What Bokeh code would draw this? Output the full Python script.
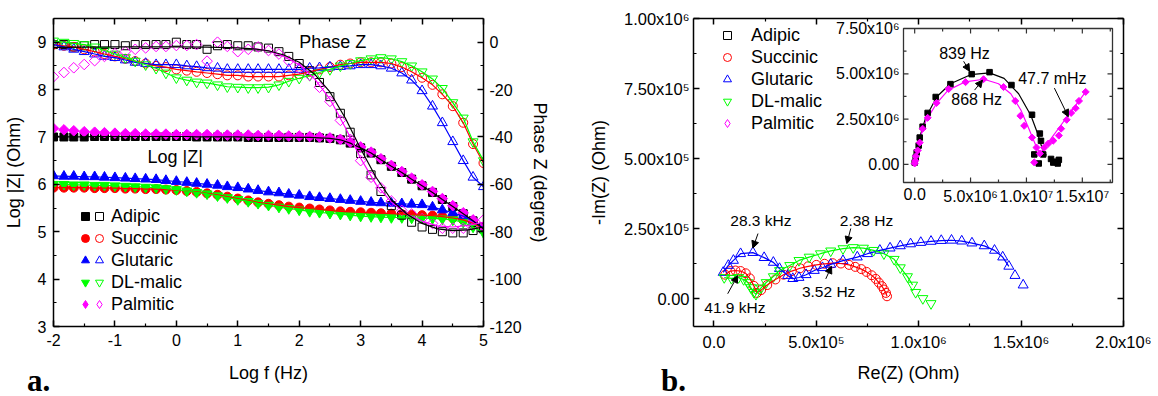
import math
import numpy as np
from bokeh.plotting import figure
from bokeh.models import (Range1d, LinearAxis, FixedTicker, Legend, LegendItem,
                          Label, Arrow, NormalHead, Div)
from bokeh.layouts import row, column
from bokeh.embed import file_html
from bokeh.resources import INLINE
from bokeh.core.properties import value

NAN = float("nan")
FONT = "Liberation Sans"

# ---------------- panel a : Bode data ----------------
LOG_F = [-2.0, -1.83, -1.67, -1.5, -1.33, -1.17, -1.0, -0.83, -0.67, -0.5, -0.33, -0.17,
         0.0, 0.17, 0.33, 0.5, 0.67, 0.83, 1.0, 1.17, 1.33, 1.5, 1.67, 1.83, 2.0, 2.17,
         2.33, 2.5, 2.67, 2.83, 3.0, 3.17, 3.33, 3.5, 3.67, 3.83, 4.0, 4.17, 4.33, 4.5,
         4.67, 4.83, 5.0]

ADIPIC_LOGZ = [7.0, 7.0, 7.0, 7.0, 7.01, 7.01, 7.01, 7.01, 7.01, 7.01, 7.01, 7.01, 7.01,
               7.01, 7.0, 7.0, 7.0, 7.0, 7.0, 6.99, 6.99, 6.99, 6.99, 6.99, 6.99, 6.99,
               6.98, 6.97, 6.94, 6.87, 6.77, 6.66, 6.52, 6.38, 6.25, 6.11, 5.97, 5.83,
               5.68, 5.53, 5.38, 5.23, 5.06]
SUCCINIC_LOGZ = [5.93, 5.93, 5.93, 5.93, 5.92, 5.92, 5.92, 5.91, 5.91, 5.9, 5.9, 5.89,
                 5.88, 5.86, 5.84, 5.81, 5.78, 5.74, 5.7, 5.66, 5.62, 5.59, 5.56, 5.53,
                 5.51, 5.49, 5.47, 5.45, 5.43, 5.42, 5.41, 5.4, 5.39, 5.38, 5.37, 5.36,
                 5.35, 5.34, 5.32, 5.29, 5.25, 5.18, 5.07]
GLUTARIC_LOGZ = [6.18, 6.17, 6.17, 6.16, 6.16, 6.15, 6.14, 6.13, 6.12, 6.11, 6.1, 6.08,
                 6.06, 6.04, 6.02, 6.0, 5.98, 5.95, 5.93, 5.9, 5.87, 5.84, 5.82, 5.79,
                 5.77, 5.74, 5.72, 5.7, 5.68, 5.66, 5.64, 5.62, 5.61, 5.6, 5.59, 5.58,
                 5.57, 5.52, 5.46, 5.4, 5.33, 5.22, 5.08]
MALIC_LOGZ = [6.0, 6.0, 5.99, 5.99, 5.98, 5.98, 5.97, 5.96, 5.95, 5.94, 5.93, 5.91, 5.89,
              5.86, 5.83, 5.8, 5.76, 5.72, 5.68, 5.64, 5.6, 5.56, 5.52, 5.49, 5.46, 5.43,
              5.41, 5.39, 5.37, 5.35, 5.33, 5.32, 5.31, 5.3, 5.3, 5.29, 5.29, 5.28, 5.27,
              5.25, 5.2, 5.1, 4.98]
PALMITIC_LOGZ = [7.18, 7.15, 7.13, 7.11, 7.1, 7.09, 7.08, 7.07, 7.07, 7.06, 7.06, 7.06,
                 7.05, 7.05, 7.05, 7.05, 7.04, 7.04, 7.04, 7.04, 7.03, 7.03, 7.03, 7.02,
                 7.02, 7.01, 7.0, 6.98, 6.95, 6.89, 6.79, 6.68, 6.54, 6.4, 6.27, 6.13,
                 5.99, 5.85, 5.7, 5.55, 5.4, 5.25, 5.1]

ADIPIC_PHASE = [-1, -1, -2, -1.5, -1, -1, -1, -1.5, -1, -1, -1, -1, 0, -1, -1, -3, -1.5,
                -1, -1.5, -1.5, -2, -2.5, -4, -6, -9, -12, -17, -23, -30, -38, -47, -56,
                -63, -69, -73, -76, -78, -79, -80, -80.5, -80.5, -79.5, -78]
SUCCINIC_PHASE = [-1, -1.5, -2, -3, -4, -5, -6, -7, -8, -9, -10, -10.5, -11.5, -12, -12.5,
                  -13, -13.5, -14, -14, -14.5, -14.5, -14.5, -14.5, -14, -13.5, -12.5,
                  -11.5, -10.5, -9.5, -9, -8.5, -8.5, -8.5, -9, -10.5, -12.5, -15, -18,
                  -22, -27, -34, -43, -51]
GLUTARIC_PHASE = [-1, -2, -3, -4, -5, -6, -6.5, -7.5, -8.5, -9, -9.5, -9.5, -9.5, -10,
                  -10.3, -10.8, -11, -11.5, -11.5, -11.5, -11.5, -11.5, -11.5, -11.5,
                  -11.5, -11, -10.8, -10.5, -10.3, -10, -9.5, -9.5, -10, -11, -13, -16,
                  -20.5, -27, -34, -42, -50, -57, -61]
MALIC_PHASE = [0.5, 0, -0.5, -1, -2, -3.5, -5, -6.5, -8, -9.5, -11, -13, -15, -16, -16.8,
               -17.2, -18, -18.8, -19, -19.2, -19.2, -19, -18, -16.5, -15.2, -14, -12.8,
               -11.5, -10, -9, -7.8, -7, -6.5, -7, -8.2, -10, -12.5, -15.5, -19.5, -25.5,
               -32, -42, -50]
PALMITIC_PHASE = [-14.6, -12.8, -10.8, -9.4, -7.8, -6, -4.8, -4, -3, -2.4, -1.8, -1.8,
                  -1.4, -1.4, -1, -8, 0, -1.8, -4, -3, -2, -3.5, -5, -8, -11, -14, -19,
                  -25, -33, -41, -50, -57, -61.5, -67, -71, -72.5, -74.5, -76.5, -78.5,
                  -78.5, -78.5, -77, -75]

# fitted phase curves (adipic / palmitic)
FIT_F = [-2.0, -1.5, -1.0, -0.5, 0.0, 0.5, 1.0, 1.25, 1.5, 1.75, 2.0, 2.25, 2.5, 2.75,
         3.0, 3.25, 3.5, 3.75, 4.0, 4.25, 4.5, 4.75, 5.0]
ADIPIC_PHASE_FIT = [-2.2, -2.1, -2.0, -2.0, -2.0, -2.1, -2.4, -2.8, -3.6, -5.4, -8.5,
                    -13.5, -21, -32, -45, -57, -66.5, -72.5, -76.5, -78.8, -79.5, -79.2, -78]
PALMITIC_PHASE_FIT = [NAN, NAN, NAN, NAN, NAN, NAN, NAN, -2.6, -3.6, -6, -9.5, -15.5, -24,
                      -36, -49, -60, -67.5, -72.5, -75.5, -77.5, -78, -77.3, -76]

NAMES = ["Adipic", "Succinic", "Glutaric", "DL-malic", "Palmitic"]
COLORS = ["black", "#FF0000", "#0000FF", "#00FF00", "#FF00FF"]

X_TICKS_A = [-2, -1, 0, 1, 2, 3, 4, 5]
LOGZ_TICKS = [3, 4, 5, 6, 7, 8, 9]
PHASE_TICKS = [-120, -100, -80, -60, -40, -20, 0]

# ---------------- panel b : Nyquist data (units of 1e5 Ohm) ----------------
SUCCINIC_RE = [0.55, 0.8, 1.05, 1.3, 1.55, 1.75, 1.95, 2.1, 2.3, 2.6, 3.0, 3.4, 3.8, 4.2,
               4.6, 5.0, 5.4, 5.8, 6.2, 6.6, 6.9, 7.2, 7.45, 7.7, 7.9, 8.05, 8.2, 8.3,
               8.4, 8.45]
SUCCINIC_IM = [0.85, 0.98, 1.0, 0.98, 0.9, 0.72, 0.45, 0.2, 0.3, 0.48, 0.68, 0.85, 0.98,
               1.08, 1.15, 1.2, 1.24, 1.26, 1.25, 1.2, 1.13, 1.05, 0.95, 0.83, 0.7, 0.57,
               0.44, 0.32, 0.2, 0.08]
GLUTARIC_RE = [0.45, 0.7, 0.95, 1.3, 1.9, 2.45, 2.9, 3.2, 3.6, 3.85, 4.15, 4.5, 4.9, 5.3,
               5.7, 6.3, 7.0, 7.5, 8.1, 8.6, 9.1, 9.6, 10.1, 10.6, 11.1, 11.6, 12.1, 12.6,
               13.2, 13.7, 14.1, 14.4, 14.7, 15.1]
GLUTARIC_IM = [0.93, 1.18, 1.36, 1.6, 1.64, 1.46, 1.29, 1.07, 0.82, 0.71, 0.75, 0.85, 1.0,
               1.1, 1.22, 1.35, 1.48, 1.6, 1.72, 1.8, 1.88, 1.95, 2.0, 2.04, 2.07, 2.08,
               2.05, 1.98, 1.88, 1.72, 1.48, 1.15, 0.82, 0.48]
MALIC_RE = [0.5, 0.85, 1.2, 1.45, 1.65, 1.8, 1.95, 2.05, 2.3, 2.55, 2.9, 3.2, 3.7, 4.15,
            4.65, 5.2, 5.7, 6.3, 6.8, 7.3, 7.8, 8.3, 8.8, 9.1, 9.45, 9.7, 9.85, 10.2, 10.6]
MALIC_IM = [0.75, 0.72, 0.75, 0.68, 0.57, 0.39, 0.22, 0.15, 0.38, 0.57, 0.78, 1.0, 1.18,
            1.36, 1.48, 1.6, 1.7, 1.78, 1.82, 1.8, 1.72, 1.6, 1.4, 1.1, 0.78, 0.48, 0.22,
            0.0, -0.18]

# inset (units of 1e6 Ohm)
ADIPIC_IN_RE = [0.0, 0.09, 0.18, 0.36, 0.45, 0.71, 1.16, 1.88, 3.2, 5.1, 6.7, 8.66, 10.5,
                11.2, 11.3, 10.7, 11.5, 11.1, 12.2, 12.5, 12.8, 12.4, 12.9]
ADIPIC_IN_IM = [0.1, 0.38, 0.66, 1.04, 1.48, 2.08, 2.84, 3.72, 4.43, 4.98, 5.09, 4.38,
                2.74, 1.7, 1.3, 0.55, 0.55, 0.05, 0.3, 0.15, 0.05, 0.1, 0.25]
ADIPIC_FIT_RE = [0.0, 0.2, 0.5, 1.0, 2.0, 3.2, 5.0, 6.7, 8.0, 9.3, 10.4, 11.0, 11.5, 11.8]
ADIPIC_FIT_IM = [0.0, 0.9, 1.6, 2.6, 3.75, 4.45, 4.95, 5.05, 4.75, 3.9, 2.7, 1.7, 0.7, 0.5]
PALMITIC_IN_RE = [0.0, 0.05, 0.1, 0.27, 0.45, 0.71, 1.16, 1.96, 3.04, 4.55, 6.16, 7.95,
                  9.0, 9.46, 9.8, 10.5, 10.9, 10.7, 11.2, 11.6, 11.96, 12.4, 12.9, 13.1,
                  13.6, 14.0, 14.4, 14.7, 15.3]
PALMITIC_IN_IM = [0.05, 0.2, 0.45, 0.77, 1.2, 1.97, 2.57, 3.39, 4.16, 4.54, 4.7, 4.27, 3.5,
                  2.68, 2.13, 1.48, 0.93, 0.11, 0.6, 0.93, 1.15, 1.31, 1.59, 1.97, 2.46,
                  2.84, 3.1, 3.5, 4.0]
PALMITIC_FIT_RE = [0.0, 0.2, 0.5, 1.0, 2.0, 3.0, 4.5, 6.2, 7.5, 8.6, 9.5, 10.2, 10.8,
                   11.2, 12.0, 13.0, 14.0, 15.3]
PALMITIC_FIT_IM = [0.0, 0.8, 1.5, 2.4, 3.4, 4.1, 4.55, 4.7, 4.45, 3.9, 3.0, 2.0, 1.1, 0.6,
                   1.26, 2.09, 2.92, 4.0]

MAIN_NOTES = ["28.3 kHz", "2.38 Hz", "41.9 kHz", "3.52 Hz"]
MAIN_NOTE_XY = [(2.29e5, 2.79e5), (7.45e5, 2.79e5), (1.02e5, -0.32e5), (5.6e5, 0.25e5)]
MAIN_ARROWS = [((2.15e5, 2.32e5), (1.9e5, 1.8e5)), ((6.68e5, 2.5e5), (6.49e5, 1.96e5)),
               ((0.67e5, 0.17e5), (1.16e5, 0.82e5)), ((5.46e5, 0.7e5), (5.74e5, 1.15e5))]
INSET_NOTES = ["839 Hz", "868 Hz", "47.7 mHz"]
INSET_NOTE_XY = [(4.46e6, 6.1e6), (5.54e6, 3.56e6), (1.232e7, 4.76e6)]
INSET_ARROWS = [((4.38e6, 5.69e6), (4.91e6, 5.14e6)), ((5.36e6, 4.1e6), (6.07e6, 4.65e6)),
                ((1.25e7, 4.21e6), (1.375e7, 2.63e6))]

PANEL_TAGS = ["a.", "b."]

# ---------------- layout constants ----------------
FW, FH = 430, 308
TOP, BOTTOM = 18, 70


def style_axis(ax, labels=True, size="16px"):
    ax.axis_line_width = 1.5
    ax.axis_line_color = "black"
    ax.major_tick_in = 6
    ax.major_tick_out = 0
    ax.minor_tick_in = 3
    ax.minor_tick_out = 0
    ax.major_tick_line_width = 1.5
    ax.minor_tick_line_width = 1.2
    ax.major_tick_line_color = "black"
    ax.minor_tick_line_color = "black"
    ax.major_label_text_font = FONT
    ax.major_label_text_color = "black"
    ax.major_label_text_font_size = size
    ax.axis_label_text_font = FONT
    ax.axis_label_text_font_size = "18px"
    ax.axis_label_text_font_style = "normal"
    ax.axis_label_text_color = "black"
    if not labels:
        ax.major_label_text_font_size = "0px"
        ax.major_label_text_color = None
        ax.major_label_text_alpha = 0
        ax.major_label_standoff = 0


def hyphen_labels(ticks):
    return {t: str(t) for t in ticks}


def make_legend(items, loc, standoff):
    return Legend(items=items, location=loc, padding=0, margin=0, spacing=0,
                  glyph_width=20, glyph_height=22, label_height=22,
                  label_standoff=standoff, border_line_color=None,
                  background_fill_alpha=0, label_text_font=FONT,
                  label_text_font_size="18px", label_text_color="black")


# =============== panel a ===============
p1 = figure(frame_width=FW, frame_height=FH, x_range=Range1d(-2, 5), y_range=Range1d(3, 9.5),
            output_backend="svg", toolbar_location=None,
            min_border_left=52, min_border_right=98, min_border_top=TOP,
            min_border_bottom=BOTTOM)
p1.extra_y_ranges = {"ph": Range1d(-120, 10)}
p1.grid.visible = False
p1.outline_line_color = None

xt1 = FixedTicker(ticks=X_TICKS_A, minor_ticks=[-1.5, -0.5, 0.5, 1.5, 2.5, 3.5, 4.5])
yt1 = FixedTicker(ticks=LOGZ_TICKS, minor_ticks=[3.5, 4.5, 5.5, 6.5, 7.5, 8.5])
pt1 = FixedTicker(ticks=PHASE_TICKS, minor_ticks=[-110, -90, -70, -50, -30, -10])
ax = p1.xaxis[0]
ax.ticker = xt1
ax.axis_label = "Log f (Hz)"
style_axis(ax)
ax.major_label_overrides = hyphen_labels(X_TICKS_A)
ax.major_label_standoff = 7
ax.axis_label_standoff = 14
ay = p1.yaxis[0]
ay.ticker = yt1
ay.axis_label = "Log |Z| (Ohm)"
style_axis(ay)
ay.major_label_standoff = 7
ay.axis_label_standoff = 11
ar = LinearAxis(y_range_name="ph", ticker=pt1, axis_label="Phase Z (degree)")
style_axis(ar)
ar.major_label_overrides = hyphen_labels(PHASE_TICKS)
ar.major_label_standoff = 6
ar.axis_label_standoff = 5
p1.add_layout(ar, "right")
atop = LinearAxis(ticker=xt1)
style_axis(atop, labels=False)
p1.add_layout(atop, "above")

SERIES_A = [
    ("Adipic", "square", COLORS[0], ADIPIC_LOGZ, ADIPIC_PHASE, 8, 0.0),
    ("Succinic", "circle", COLORS[1], SUCCINIC_LOGZ, SUCCINIC_PHASE, 9, 0.0),
    ("Glutaric", "triangle", COLORS[2], GLUTARIC_LOGZ, GLUTARIC_PHASE, 10, 0.0),
    ("DL-malic", "inverted_triangle", COLORS[3], MALIC_LOGZ, MALIC_PHASE, 10, 0.0),
    ("Palmitic", "square", COLORS[4], PALMITIC_LOGZ, PALMITIC_PHASE, 7.5, math.pi / 4),
]

filled_r, open_r = {}, {}
for name, mk, col, z, ph, sz, ang in SERIES_A:
    filled_r[name] = p1.scatter(LOG_F, z, marker=mk, size=sz, angle=ang,
                                fill_color=col, line_color=col, line_width=1)
for name, mk, col, z, ph, sz, ang in SERIES_A:
    open_r[name] = p1.scatter(LOG_F, ph, marker=mk, size=sz, angle=ang, fill_color=None,
                              line_color=col, line_width=1, y_range_name="ph")

# fit lines
p1.line(LOG_F, SUCCINIC_LOGZ, line_color=COLORS[1], line_width=1.2)
p1.line(LOG_F, MALIC_LOGZ, line_color=COLORS[3], line_width=1.2)
p1.line(LOG_F, GLUTARIC_LOGZ, line_color=COLORS[2], line_width=1.2)
p1.line(LOG_F, ADIPIC_LOGZ, line_color="black", line_width=1.2)
p1.line(LOG_F, SUCCINIC_PHASE, line_color=COLORS[1], line_width=1.2, y_range_name="ph")
p1.line(LOG_F, GLUTARIC_PHASE, line_color=COLORS[2], line_width=1.2, y_range_name="ph")
p1.line(LOG_F, MALIC_PHASE, line_color=COLORS[3], line_width=1.2, y_range_name="ph")
p1.line(FIT_F, PALMITIC_PHASE_FIT, line_color=COLORS[4], line_width=1.2, y_range_name="ph")
p1.line(FIT_F, ADIPIC_PHASE_FIT, line_color="black", line_width=1.2, y_range_name="ph")

p1.add_layout(Label(x=2.0, y=9.0, text="Phase Z", text_font=FONT, text_font_size="18px",
                    text_color="black", text_baseline="middle", text_align="left"))
p1.add_layout(Label(x=-0.47, y=6.58, text="Log |Z|", text_font=FONT, text_font_size="18px",
                    text_color="black", text_baseline="middle", text_align="left"))

# legend-only glyphs (diamond shape for the legend rows)
leg_pal_f = p1.scatter([NAN], [NAN], marker="diamond", size=10, fill_color=COLORS[4],
                       line_color=COLORS[4])
leg_pal_o = p1.scatter([NAN], [NAN], marker="diamond", size=10, fill_color=None,
                       line_color=COLORS[4])
f_items = [LegendItem(label=" ", renderers=[filled_r[n]]) for n in NAMES[:4]]
f_items.append(LegendItem(label=" ", renderers=[leg_pal_f]))
o_items = [LegendItem(label=n, renderers=[open_r[n]]) for n in NAMES[:4]]
o_items.append(LegendItem(label=NAMES[4], renderers=[leg_pal_o]))
p1.add_layout(make_legend(f_items, (22, 11), 0))
p1.add_layout(make_legend(o_items, (36, 11), 2))

# =============== panel b ===============
X0, X1 = -1e5, 2e6
Y0, Y1 = -1e5, 1e6
X_TICKS_B = [0, 500000, 1000000, 1500000, 2000000]
X_LABELS_B = ["0.0", "5.0x10\u2075", "1.0x10\u2076", "1.5x10\u2076", "2.0x10\u2076"]
Y_TICKS_B = [0, 250000, 500000, 750000, 1000000]
Y_LABELS_B = ["0.00", "2.50x10\u2075", "5.00x10\u2075", "7.50x10\u2075", "1.00x10\u2076"]

p2 = figure(frame_width=FW, frame_height=FH, x_range=Range1d(X0, X1), y_range=Range1d(Y0, Y1),
            output_backend="svg", toolbar_location=None,
            min_border_left=112, min_border_right=28, min_border_top=TOP,
            min_border_bottom=BOTTOM)
p2.grid.visible = False
p2.outline_line_color = None

xt2 = FixedTicker(ticks=X_TICKS_B, minor_ticks=[2.5e5, 7.5e5, 1.25e6, 1.75e6])
yt2 = FixedTicker(ticks=Y_TICKS_B, minor_ticks=[1.25e5, 3.75e5, 6.25e5, 8.75e5])
bx = p2.xaxis[0]
bx.ticker = xt2
bx.axis_label = "Re(Z) (Ohm)"
style_axis(bx, size="16.5px")
bx.major_label_overrides = dict(zip(X_TICKS_B, X_LABELS_B))
bx.major_label_standoff = 6
bx.axis_label_standoff = 9
by = p2.yaxis[0]
by.ticker = yt2
by.axis_label = "-Im(Z) (Ohm)"
style_axis(by, size="16.5px")
by.major_label_overrides = dict(zip(Y_TICKS_B, Y_LABELS_B))
by.major_label_standoff = 4
by.axis_label_standoff = 12
br = LinearAxis(ticker=yt2)
style_axis(br, labels=False)
p2.add_layout(br, "right")
btop = LinearAxis(ticker=xt2)
style_axis(btop, labels=False)
p2.add_layout(btop, "above")

S = 1e5
r_suc = p2.scatter(np.array(SUCCINIC_RE) * S, np.array(SUCCINIC_IM) * S, marker="circle",
                   size=9, fill_color=None, line_color=COLORS[1], line_width=1)
r_glu = p2.scatter(np.array(GLUTARIC_RE) * S, np.array(GLUTARIC_IM) * S, marker="triangle",
                   size=10, fill_color=None, line_color=COLORS[2], line_width=1)
r_mal = p2.scatter(np.array(MALIC_RE) * S, np.array(MALIC_IM) * S, marker="inverted_triangle",
                   size=10, fill_color=None, line_color=COLORS[3], line_width=1)
p2.line(np.array(SUCCINIC_RE) * S, np.array(SUCCINIC_IM) * S, line_color=COLORS[1], line_width=1.2)
p2.line(np.array(GLUTARIC_RE[:-2]) * S, np.array(GLUTARIC_IM[:-2]) * S, line_color=COLORS[2],
        line_width=1.2)
p2.line(np.array(MALIC_RE[:-3]) * S, np.array(MALIC_IM[:-3]) * S, line_color=COLORS[3],
        line_width=1.2)

# legend: glyph column and label column
r_adi_leg = p2.scatter([NAN], [NAN], marker="square", size=8, fill_color=None, line_color="black")
r_pal_leg = p2.scatter([NAN], [NAN], marker="diamond", size=10, fill_color=None,
                       line_color=COLORS[4])
r_blank = p2.scatter([NAN], [NAN], marker="circle", size=1, fill_alpha=0, line_alpha=0)
p2.add_layout(make_legend([LegendItem(label=" ", renderers=[r])
                           for r in (r_adi_leg, r_suc, r_glu, r_mal, r_pal_leg)], (24, 192), 0))
p2.add_layout(make_legend([LegendItem(label=n, renderers=[r_blank]) for n in NAMES],
                          (36, 192), 2))

for txt, (tx, ty) in zip(MAIN_NOTES, MAIN_NOTE_XY):
    p2.add_layout(Label(x=tx, y=ty, text=txt, text_font=FONT, text_font_size="15.5px",
                        text_color="black", text_align="center", text_baseline="middle"))
for (s, e) in MAIN_ARROWS:
    p2.add_layout(Arrow(end=NormalHead(size=7, fill_color="black", line_color="black"),
                        x_start=s[0], y_start=s[1], x_end=e[0], y_end=e[1],
                        line_color="black", line_width=1))

# ---- inset (drawn in the same frame on its own ranges) ----
IL, IR, IT, IB = 210, 419, 10, 164          # inset box in frame pixels
IN_X = (-1.0e6, 1.77e7)
IN_Y = (-1.0e6, 7.5e6)
sxi = (IN_X[1] - IN_X[0]) / (IR - IL)
syi = (IN_Y[1] - IN_Y[0]) / (IB - IT)
p2.extra_x_ranges = {"ix": Range1d(IN_X[0] - IL * sxi, IN_X[1] + (FW - IR) * sxi)}
p2.extra_y_ranges = {"iy": Range1d(IN_Y[0] - (FH - IB) * syi, IN_Y[1] + IT * syi)}
IK = dict(x_range_name="ix", y_range_name="iy")

p2.quad(left=[IN_X[0]], right=[IN_X[1]], bottom=[IN_Y[0]], top=[IN_Y[1]],
        fill_color="white", line_color="#333333", line_width=1.3, **IK)

IN_YT = [0, 2.5e6, 5e6, 7.5e6]
IN_YT_MINOR = [1.25e6, 3.75e6, 6.25e6]
IN_XT = [0, 5e6, 1e7, 1.5e7]
IN_XT_MINOR = [2.5e6, 7.5e6, 1.25e7, 1.75e7]
IN_YLAB = ["0.00", "2.50x10\u2076", "5.00x10\u2076", "7.50x10\u2076"]
IN_XLAB = ["0.0", "5.0x10\u2076", "1.0x10\u2077", "1.5x10\u2077"]

sx0, sy0, sx1, sy1 = [], [], [], []
for vals, ln in ((IN_YT, 5), (IN_YT_MINOR, 3)):
    for v in vals:
        sx0 += [IN_X[0], IN_X[1]]
        sx1 += [IN_X[0] + ln * sxi, IN_X[1] - ln * sxi]
        sy0 += [v, v]
        sy1 += [v, v]
for vals, ln in ((IN_XT, 5), (IN_XT_MINOR, 3)):
    for v in vals:
        sx0 += [v, v]
        sx1 += [v, v]
        sy0 += [IN_Y[0], IN_Y[1]]
        sy1 += [IN_Y[0] + ln * syi, IN_Y[1] - ln * syi]
p2.segment(sx0, sy0, sx1, sy1, line_color="#333333", line_width=1.2, **IK)

p2.text(x=[IN_X[0] - 4 * sxi] * len(IN_YT), y=IN_YT, text=IN_YLAB, text_align="right",
        text_baseline="middle", text_font=value(FONT), text_font_size="16px",
        text_color="black", **IK)
p2.text(x=IN_XT, y=[IN_Y[0] - 5 * syi] * len(IN_XT), text=IN_XLAB, text_align="center",
        text_baseline="top", text_font=value(FONT), text_font_size="16px",
        text_color="black", **IK)

M = 1e6
p2.line(np.array(ADIPIC_FIT_RE) * M, np.array(ADIPIC_FIT_IM) * M, line_color="black",
        line_width=1.2, **IK)
p2.line(np.array(PALMITIC_FIT_RE) * M, np.array(PALMITIC_FIT_IM) * M, line_color=COLORS[4],
        line_width=1.2, **IK)
p2.scatter(np.array(ADIPIC_IN_RE) * M, np.array(ADIPIC_IN_IM) * M, marker="square", size=5.5,
           fill_color="black", line_color="black", **IK)
p2.scatter(np.array(PALMITIC_IN_RE) * M, np.array(PALMITIC_IN_IM) * M, marker="square",
           angle=math.pi / 4, size=5, fill_color=COLORS[4], line_color=COLORS[4], **IK)

for txt, (tx, ty) in zip(INSET_NOTES, INSET_NOTE_XY):
    p2.add_layout(Label(x=tx, y=ty, text=txt, text_font=FONT, text_font_size="16px",
                        text_color="black", text_align="center", text_baseline="middle", **IK))
for (s, e) in INSET_ARROWS:
    p2.add_layout(Arrow(end=NormalHead(size=7, fill_color="black", line_color="black"),
                        x_start=s[0], y_start=s[1], x_end=e[0], y_end=e[1],
                        line_color="black", line_width=1, **IK))


# panel tags "a." / "b." as positioned HTML text over the page
def tag(text, left, top):
    return Div(text=text, styles={
        "position": "absolute", "left": f"{left}px", "top": f"{top}px",
        "font-family": "Liberation Serif", "font-size": "31px", "font-weight": "bold",
        "color": "black", "white-space": "nowrap",
        "margin": "0", "padding": "0", "z-index": "10"})


layout = column(row(p1, p2), tag(PANEL_TAGS[0], 27, 359), tag(PANEL_TAGS[1], 661, 359))
open("out.html", "w").write(file_html(layout, INLINE))
